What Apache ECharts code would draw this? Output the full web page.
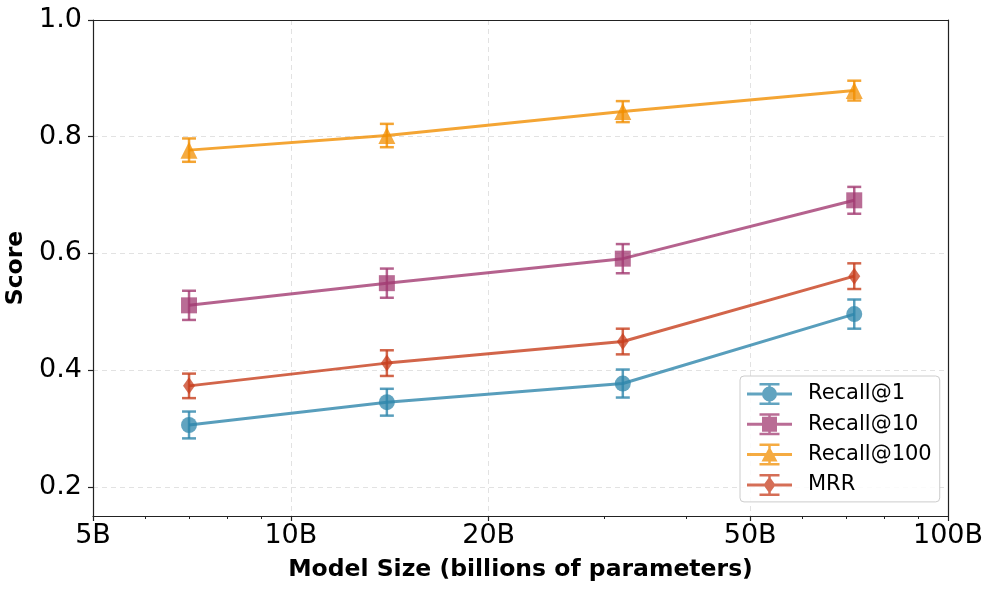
<!DOCTYPE html>
<html><head><meta charset="utf-8">
<script src="https://cdn.jsdelivr.net/npm/echarts@6/dist/echarts.min.js"></script>
<style>html,body{margin:0;padding:0;background:#fff}#c{width:996px;height:592px}</style>
</head><body><div id="c"></div>
<script>
const modelSizes = [7, 14, 32, 72];
const seriesNames = ['Recall@1', 'Recall@10', 'Recall@100', 'MRR'];
const recall1 = [0.306, 0.345, 0.377, 0.496];
const recall1Err = [0.023, 0.023, 0.024, 0.025];
const recall10 = [0.511, 0.549, 0.591, 0.691];
const recall10Err = [0.025, 0.025, 0.025, 0.023];
const recall100 = [0.777, 0.802, 0.843, 0.879];
const recall100Err = [0.02, 0.02, 0.018, 0.017];
const mrr = [0.373, 0.412, 0.449, 0.561];
const mrrErr = [0.021, 0.022, 0.022, 0.022];
const xTickValues = [5, 10, 20, 50, 100];
const xMinorTickValues = [6, 7, 8, 9, 30, 40, 60, 70, 80, 90];
const yTickValues = [0.2, 0.4, 0.6, 0.8, 1.0];

const colors = ['#2E86AB', '#A23B72', '#F18F01', '#C73E1D'];
const symbols = ['circle', 'rect', 'triangle', 'diamond'];
const symbolSizes = [16, 16, 17, [12, 17]];
const values = [recall1, recall10, recall100, mrr];
const errors = [recall1Err, recall10Err, recall100Err, mrrErr];

const barPath = 'M0 9.5H45V12.5H0Z M21.25 0H23.75V22H21.25Z M12.5 0H32.5V2.5H12.5Z M12.5 19.5H32.5V22H12.5Z ';
const markPaths = [
  'M15 11A7.5 7.5 0 1 1 30 11A7.5 7.5 0 1 1 15 11Z',
  'M15 3.5H30V18.5H15Z',
  'M22.5 3L30.5 18L14.5 18Z',
  'M22.5 2.5L28.5 11L22.5 19.5L16.5 11Z'
];

const L = Math.log10;
const xMin = L(5), xMax = L(100);
const GRID = {left: 93, right: 48, top: 20, bottom: 76, outerBoundsMode: 'none', containLabel: false};
const FONT = 'DejaVu Sans';

const series = [];
seriesNames.forEach((name, i) => {
  series.push({
    name: name,
    type: 'line',
    data: modelSizes.map((s, k) => [L(s), values[i][k]]),
    symbol: symbols[i],
    symbolSize: symbolSizes[i],
    lineStyle: {color: colors[i], width: 3, opacity: 0.8},
    itemStyle: {color: colors[i], opacity: 0.75},
    z: 3 + i
  });
  series.push({
    name: name + ' err',
    type: 'custom',
    data: modelSizes.map((s, k) => [L(s), values[i][k] - errors[i][k], values[i][k] + errors[i][k]]),
    z: 3 + i,
    renderItem: function (params, api) {
      const lo = api.coord([api.value(0), api.value(1)]);
      const hi = api.coord([api.value(0), api.value(2)]);
      const cw = 7;
      const st = {stroke: colors[i], lineWidth: 2.5, opacity: 0.8};
      return {type: 'group', children: [
        {type: 'line', shape: {x1: lo[0], y1: lo[1], x2: hi[0], y2: hi[1]}, style: st},
        {type: 'line', shape: {x1: lo[0] - cw, y1: lo[1], x2: lo[0] + cw, y2: lo[1]}, style: st},
        {type: 'line', shape: {x1: hi[0] - cw, y1: hi[1], x2: hi[0] + cw, y2: hi[1]}, style: st}
      ]};
    }
  });
});

const axisLineStyle = {color: '#222', width: 1.2};
const option = {
  animation: false,
  backgroundColor: '#fff',
  grid: [
    Object.assign({show: false}, GRID),
    Object.assign({show: false}, GRID),
    Object.assign({show: false}, GRID)
  ],
  xAxis: [{
    type: 'value', min: xMin, max: xMax, gridIndex: 0,
    name: 'Model Size (billions of parameters)',
    nameLocation: 'middle', nameGap: 42,
    nameTextStyle: {fontSize: 23.5, fontWeight: 'bold', color: '#000', fontFamily: FONT},
    axisLine: {show: true, lineStyle: axisLineStyle},
    axisTick: {show: true, length: 5, lineStyle: axisLineStyle, customValues: xTickValues.map(L)},
    axisLabel: {customValues: xTickValues.map(L), fontSize: 27, color: '#000', fontFamily: FONT, margin: 6,
      formatter: v => Math.round(Math.pow(10, v)) + 'B'},
    splitLine: {show: true, lineStyle: {color: '#e2e2e2', type: [5, 4], width: 1}}
  }, {
    type: 'value', min: xMin, max: xMax, gridIndex: 1, position: 'bottom', z: 5,
    axisLine: {show: false},
    axisTick: {show: true, length: 3, lineStyle: {color: '#222', width: 1}, customValues: xMinorTickValues.map(L)},
    axisLabel: {show: false},
    splitLine: {show: false}
  }, {
    type: 'value', min: xMin, max: xMax, gridIndex: 2, position: 'top', z: 5,
    axisLine: {show: true, lineStyle: axisLineStyle},
    axisTick: {show: false}, axisLabel: {show: false}, splitLine: {show: false}
  }],
  yAxis: [{
    type: 'value', min: 0.15, max: 1.0, gridIndex: 0,
    name: 'Score', nameLocation: 'middle', nameGap: 60,
    nameTextStyle: {fontSize: 23.5, fontWeight: 'bold', color: '#000', fontFamily: FONT},
    axisLine: {show: true, lineStyle: axisLineStyle},
    axisTick: {show: true, length: 5, lineStyle: axisLineStyle, customValues: yTickValues},
    axisLabel: {customValues: yTickValues, fontSize: 27, color: '#000', fontFamily: FONT, margin: 11,
      formatter: v => v.toFixed(1)},
    splitLine: {show: true, lineStyle: {color: '#e2e2e2', type: [5, 4], width: 1}}
  }, {
    type: 'value', min: 0.15, max: 1.0, gridIndex: 1, position: 'right', z: 5,
    axisLine: {show: true, lineStyle: axisLineStyle},
    axisTick: {show: false}, axisLabel: {show: false}, splitLine: {show: false}
  }, {
    type: 'value', min: 0.15, max: 1.0, gridIndex: 2, show: false
  }],
  legend: {
    data: seriesNames.map((n, i) => ({name: n, icon: 'path://' + barPath + markPaths[i]})),
    orient: 'vertical',
    left: 740, top: 376,
    itemWidth: 45, itemHeight: 22, itemGap: 8.3,
    padding: [7, 8, 6, 7],
    borderColor: '#ccc', borderWidth: 1, borderRadius: 4,
    backgroundColor: 'rgba(255,255,255,0.85)',
    textStyle: {fontSize: 21, color: '#000', fontFamily: FONT, padding: [0, 0, 0, 11]}
  },
  series: series
};
const chart = echarts.init(document.getElementById('c'), null, {renderer: 'canvas'});
chart.setOption(option);
</script>
</body></html>
